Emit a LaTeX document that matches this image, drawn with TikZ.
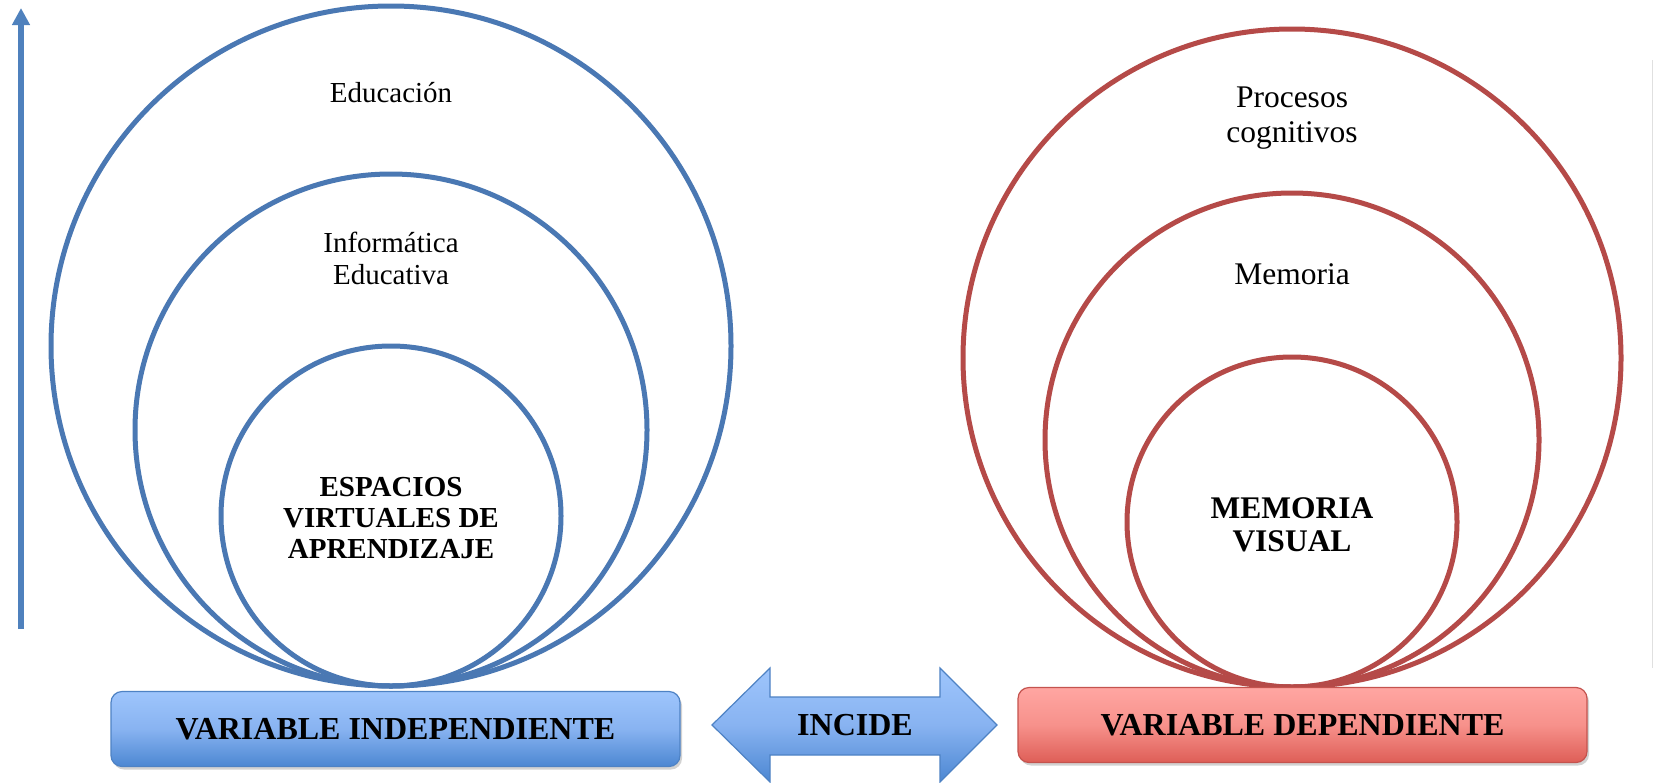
\documentclass[tikz,border=0pt]{standalone}
\usepackage{fontspec}
\setmainfont{Liberation Serif}
\usetikzlibrary{arrows.meta,shadows}
\definecolor{ringblue}{HTML}{4A78B3}
\definecolor{ringred}{HTML}{B54A48}
\definecolor{axisblue}{HTML}{4F81BD}
\definecolor{bluetop}{HTML}{9EC5FC}
\definecolor{bluemid}{HTML}{88B3F1}
\definecolor{bluebot}{HTML}{4C87D2}
\definecolor{blueedge}{HTML}{4E82C4}
\definecolor{redtop}{HTML}{FFA6A2}
\definecolor{redmid}{HTML}{F7918B}
\definecolor{redbot}{HTML}{DE5E57}
\definecolor{rededge}{HTML}{C4534E}
\tikzset{
  ring/.style={circle, draw, line width=5pt, inner sep=0pt, outer sep=0pt},
  bluering/.style={ring, draw=ringblue},
  redring/.style={ring, draw=ringred},
  lbl/.style={align=center, font=\fontsize{29}{32}\selectfont, inner sep=0pt},
  blbl/.style={lbl, font=\fontsize{29}{31}\selectfont\bfseries},
  rlbl/.style={align=center, font=\fontsize{31.5}{35}\selectfont, inner sep=0pt},
  rblbl/.style={rlbl, font=\fontsize{31.5}{33}\selectfont\bfseries},
  varbox/.style={rounded corners=11pt, line width=1.2pt, minimum width=569pt,
    minimum height=75pt, inner sep=0pt, font=\fontsize{32}{34}\selectfont\bfseries,
    drop shadow={opacity=0.35, shadow xshift=2pt, shadow yshift=-3pt}},
  bluebox/.style={varbox, draw=blueedge, top color=bluetop, bottom color=bluebot, middle color=bluemid},
  redbox/.style={varbox, draw=rededge, top color=redtop, bottom color=redbot, middle color=redmid},
}
\begin{document}
\begin{tikzpicture}[x=1pt, y=-1pt]
  \useasboundingbox (0,0) rectangle (1654,782);
  \fill[white] (0,0) rectangle (1654,782);

  % vertical axis arrow
  \coordinate (axisfoot) at (21,629);
  \coordinate (axistip) at (21,8);
  \draw[axisblue, line width=5.3pt, -{Triangle[width=17pt,length=17pt]}] (axisfoot) -- (axistip);

  % faint page edge on the right
  \coordinate (edgetop) at (1652.5,60);
  \coordinate (edgebot) at (1652.5,668);
  \draw[black!12, line width=1pt] (edgetop) -- (edgebot);

  % independent variable: nested circles
  \node[bluering, minimum size=680pt] (educ) at (391,346) {};
  \node[bluering, minimum size=512pt] (infed) at (391,430) {};
  \node[bluering, minimum size=340pt] (eva) at (391,516) {};
  \node[lbl] (tEduc) at (391,93) {Educación};
  \node[lbl] (tInfed) at (391,258) {Informática\\Educativa};
  \node[blbl] (tEva) at (391,518) {ESPACIOS\\VIRTUALES DE\\APRENDIZAJE};

  % dependent variable: nested circles
  \node[redring, minimum size=658pt] (proc) at (1292,358) {};
  \node[redring, minimum size=494pt] (mem) at (1292,440) {};
  \node[redring, minimum size=330pt] (memv) at (1292,522) {};
  \node[rlbl] (tProc) at (1292,118) {Procesos\\cognitivos};
  \node[rlbl] (tMem) at (1292,274) {Memoria};
  \node[rblbl] (tMemv) at (1292,525) {MEMORIA\\VISUAL};

  % variable boxes
  \node[bluebox] (vi) at (395.5,729) {VARIABLE INDEPENDIENTE};
  \node[redbox] (vd) at (1302.5,725) {VARIABLE DEPENDIENTE};

  % double arrow between the boxes
  \draw[blueedge, line width=1.2pt, top color=bluetop, bottom color=bluebot, middle color=bluemid]
    (712,725) -- (770,668) -- (770,697) -- (940,697) -- (940,668) -- (997,725)
    -- (940,782) -- (940,755) -- (770,755) -- (770,782) -- cycle;
  \node[font=\fontsize{32}{34}\selectfont\bfseries, inner sep=0pt] (incide) at (855,725) {INCIDE};
\end{tikzpicture}
\end{document}
